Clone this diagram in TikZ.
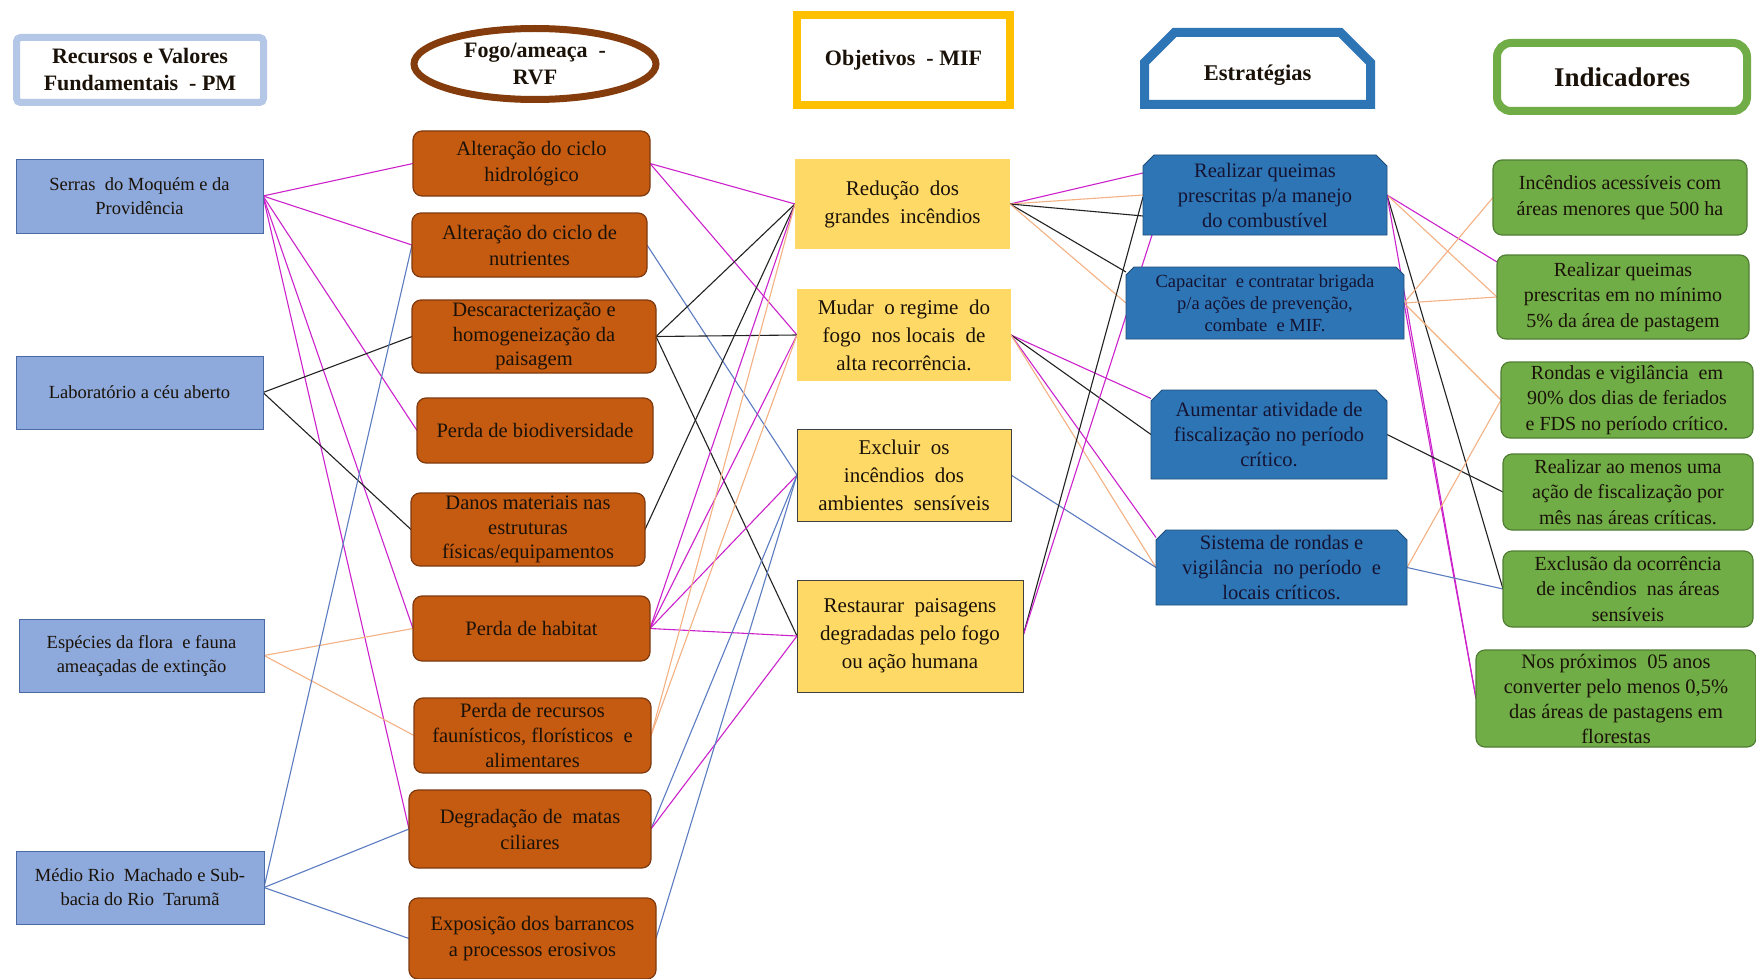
\documentclass[tikz,border=0pt]{standalone}
\usepackage{fontspec}
\setmainfont{Liberation Serif}
\usetikzlibrary{shapes.geometric}
\pgfdeclarelayer{background}
\pgfdeclarelayer{mid}
\pgfsetlayers{background,mid,main}
\definecolor{rvbord}{HTML}{B4C7E7}
\definecolor{rvfill}{HTML}{8EA9DB}
\definecolor{rvline}{HTML}{4A6AA5}
\definecolor{orfill}{HTML}{C55A11}
\definecolor{orline}{HTML}{7F3A10}
\definecolor{ellbord}{HTML}{843C0C}
\definecolor{yelfill}{HTML}{FFD966}
\definecolor{yelbord}{HTML}{FFC000}
\definecolor{stfill}{HTML}{2E75B6}
\definecolor{stline}{HTML}{1F4E79}
\definecolor{grfill}{HTML}{70AD47}
\definecolor{grline}{HTML}{507E32}
\definecolor{cmag}{HTML}{CC22CC}
\definecolor{cblk}{HTML}{222222}
\definecolor{corg}{HTML}{F4B183}
\definecolor{cblu}{HTML}{5B7CC0}
\definecolor{txtdark}{HTML}{1A1208}
\definecolor{txtnavy}{HTML}{141432}
\newcommand\chamferbox[3]{%
  \path[#3] (#1.south west) -- ([yshift=-#2]#1.north west) -- ([xshift=#2]#1.north west)
    -- ([xshift=-#2]#1.north east) -- ([yshift=-#2]#1.north east) -- (#1.south east) -- cycle;}
\tikzset{
  base/.style={align=center, inner sep=2pt, outer sep=0pt, text=txtdark},
  rv/.style={base, rectangle, fill=rvfill, draw=rvline, line width=0.8pt, font=\fontsize{18.5}{24}\selectfont},
  fo/.style={base, rectangle, rounded corners=9pt, fill=orfill, draw=orline, line width=1.2pt, font=\fontsize{20.5}{26}\selectfont},
  ob/.style={base, rectangle, fill=yelfill, font=\fontsize{21}{28}\selectfont},
  obd/.style={ob, draw=black!75, line width=1pt},
  st/.style={base, rectangle, text=txtnavy, font=\fontsize{20.5}{25}\selectfont},
  stfillstyle/.style={fill=stfill, draw=stline, line width=0.8pt},
  indbox/.style={base, rectangle, rounded corners=9pt, fill=grfill, draw=grline, line width=1.2pt, font=\fontsize{20}{25.5}\selectfont},
  head/.style={base, font=\bfseries\fontsize{22}{27}\selectfont, fill=white},
  mag/.style={draw=cmag, line width=1.1pt},
  blk/.style={draw=cblk, line width=1.1pt},
  org/.style={draw=corg, line width=1.1pt},
  blu/.style={draw=cblu, line width=1.1pt}
}
\begin{document}
\begin{tikzpicture}[x=1pt,y=-1pt]
\useasboundingbox (0,0) rectangle (1756,979);
\begin{pgfonlayer}{background}
\fill[white] (0,0) rectangle (1756,979);
\end{pgfonlayer}

% headers
\node[head, rectangle, rounded corners=4pt, draw=rvbord, line width=7pt, minimum width=247pt, minimum height=65pt] (h1) at (140,70) {Recursos e Valores\\Fundamentais \ - PM};
\node[head, ellipse, draw=ellbord, line width=7pt, inner sep=0pt, minimum width=242pt, minimum height=71pt] (h2) at (535,64) {Fogo/ameaça \ -\\RVF};
\node[head, rectangle, draw=yelbord, line width=8pt, minimum width=213pt, minimum height=90pt] (h3) at (903.5,60) {Objetivos \ - MIF};
\node[base, font=\bfseries\fontsize{22.5}{27}\selectfont, minimum width=226pt, minimum height=72pt] (h4) at (1257.5,68.5) {\raisebox{-5pt}[15pt][0pt]{Estratégias}};
\node[head, rectangle, rounded corners=14pt, draw=grfill, line width=8pt, minimum width=250pt, minimum height=68pt, font=\bfseries\fontsize{27}{32}\selectfont] (h5) at (1622,77) {Indicadores};
\begin{pgfonlayer}{mid}
\chamferbox{h4}{30pt}{draw=stfill, line width=9pt, fill=white, line join=miter}
\end{pgfonlayer}

% column 1
\node[rv, minimum width=247pt, minimum height=74pt] (r1) at (139.5,196) {Serras \ do Moquém e da\\Providência};
\node[rv, minimum width=247pt, minimum height=73pt] (r2) at (139.5,392.5) {Laboratório a céu aberto};
\node[rv, minimum width=245pt, minimum height=73pt] (r3) at (141.5,655.5) {Espécies da flora \ e fauna\\ameaçadas de extinção};
\node[rv, minimum width=248pt, minimum height=73pt] (r4) at (140,887.5) {Médio Rio \ Machado e Sub-\\bacia do Rio \ Tarumã};

% column 2
\node[fo, minimum width=237pt, minimum height=65pt] (a1) at (531.5,163.5) {Alteração do ciclo\\hidrológico};
\node[fo, minimum width=235pt, minimum height=64pt] (a2) at (529.5,245) {Alteração do ciclo de\\nutrientes};
\node[fo, minimum width=244pt, minimum height=73pt, font=\fontsize{20.5}{24.5}\selectfont] (a3) at (534,336.5) {Descaracterização e\\homogeneização da\\paisagem};
\node[fo, minimum width=236pt, minimum height=65pt] (a4) at (535,430.5) {Perda de biodiversidade};
\node[fo, minimum width=234pt, minimum height=73pt, font=\fontsize{20.5}{24.5}\selectfont] (a5) at (528,529.5) {Danos materiais nas\\estruturas\\físicas/equipamentos};
\node[fo, minimum width=237pt, minimum height=65pt] (a6) at (531.5,628.5) {Perda de habitat};
\node[fo, minimum width=237pt, minimum height=75pt, font=\fontsize{20.5}{25}\selectfont] (a7) at (532.5,735.5) {Perda de recursos\\faunísticos, florísticos \ e\\alimentares};
\node[fo, minimum width=242pt, minimum height=78pt] (a8) at (530,829) {Degradação de \ matas\\ciliares};
\node[fo, minimum width=247pt, minimum height=81pt] (a9) at (532.5,938.5) {Exposição dos barrancos\\a processos erosivos};

% column 3
\node[ob, minimum width=215pt, minimum height=90pt] (o1) at (902.5,204) {Redução \ dos\\grandes \ incêndios};
\node[ob, minimum width=214pt, minimum height=92pt] (o2) at (904,335) {Mudar \ o regime \ do\\fogo \ nos locais \ de\\alta recorrência.};
\node[obd, minimum width=214pt, minimum height=92pt] (o3) at (904,475) {Excluir \ os\\incêndios \ dos\\ambientes \ sensíveis};
\node[obd, minimum width=226pt, minimum height=112pt] (o4) at (910,636) {Restaurar \ paisagens\\degradadas pelo fogo\\ou ação humana};

% column 4
\node[st, minimum width=244pt, minimum height=80pt] (s1) at (1265,195) {Realizar queimas\\prescritas p/a manejo\\do combustível};
\node[st, minimum width=278pt, minimum height=72pt, font=\fontsize{18.5}{22}\selectfont] (s2) at (1265,303) {Capacitar \ e contratar brigada\\p/a ações de prevenção,\\combate \ e MIF.};
\node[st, minimum width=236pt, minimum height=89pt] (s3) at (1269,434.5) {Aumentar atividade de\\fiscalização no período\\crítico.};
\node[st, minimum width=251pt, minimum height=75pt] (s4) at (1281.5,567.5) {Sistema de rondas e\\vigilância \ no período \ e\\locais críticos.};
\begin{pgfonlayer}{mid}
\chamferbox{s1}{11pt}{stfillstyle}
\chamferbox{s2}{8pt}{stfillstyle}
\chamferbox{s3}{11pt}{stfillstyle}
\chamferbox{s4}{10pt}{stfillstyle}
\end{pgfonlayer}

% column 5
\node[indbox, minimum width=254pt, minimum height=75pt] (i1) at (1620,197.5) {Incêndios acessíveis com\\áreas menores que 500 ha};
\node[indbox, minimum width=252pt, minimum height=84pt] (i2) at (1623,297) {Realizar queimas\\prescritas em no mínimo\\5\% da área de pastagem};
\node[indbox, minimum width=252pt, minimum height=76pt] (i3) at (1627,400) {Rondas e vigilância \ em\\90\% dos dias de feriados\\e FDS no período crítico.};
\node[indbox, minimum width=250pt, minimum height=76pt] (i4) at (1628,492) {Realizar ao menos uma\\ação de fiscalização por\\mês nas áreas críticas.};
\node[indbox, minimum width=250pt, minimum height=76pt] (i5) at (1628,589) {Exclusão da ocorrência\\de incêndios \ nas áreas\\sensíveis};
\node[indbox, minimum width=280pt, minimum height=97pt, font=\fontsize{20.5}{25}\selectfont] (i6) at (1616,698.5) {Nos próximos \ 05 anos\\converter pelo menos 0,5\%\\das áreas de pastagens em\\florestas};

% connectors
\begin{pgfonlayer}{background}
% col1 -> col2
\draw[mag] (r1.east) -- (a1.west);
\draw[mag] (r1.east) -- (a2.west);
\draw[mag] (r1.east) -- (a4.west);
\draw[mag] (r1.east) -- (a6.west);
\draw[mag] (r1.east) -- (a8.west);
\draw[blk] (r2.east) -- (a3.west);
\draw[blk] (r2.east) -- (a5.west);
\draw[org] (r3.east) -- (a6.west);
\draw[org] (r3.east) -- (a7.west);
\draw[blu] (r4.east) -- (a2.west);
\draw[blu] (r4.east) -- (a8.west);
\draw[blu] (r4.east) -- (a9.west);
% col2 -> col3
\draw[mag] (a1.east) -- (o1.west);
\draw[mag] (a1.east) -- (o2.west);
\draw[blu] (a2.east) -- (o3.west);
\draw[blk] (a3.east) -- (o1.west);
\draw[blk] (a3.east) -- (o2.west);
\draw[blk] (a3.east) -- (o4.west);
\draw[blk] (a5.east) -- (o1.west);
\draw[mag] (a6.east) -- (o1.west);
\draw[mag] (a6.east) -- (o2.west);
\draw[mag] (a6.east) -- (o3.west);
\draw[mag] (a6.east) -- (o4.west);
\draw[org] (a7.east) -- (o1.west);
\draw[org] (a7.east) -- (o2.west);
\draw[blu] (a8.east) -- (o3.west);
\draw[mag] (a8.east) -- (o4.west);
\draw[blu] (a9.east) -- (o3.west);
% col3 -> col4
\draw[mag] (o1.east) -- ([yshift=22pt]s1.west);
\draw[org] (o1.east) -- (s1.west);
\draw[blk] (o1.east) -- ([yshift=-21pt]s1.west);
\draw[blk] (o1.east) -- ([yshift=31pt]s2.west);
\draw[org] (o1.east) -- (s2.west);
\draw[mag] (o2.east) -- ([yshift=36pt]s3.west);
\draw[blk] (o2.east) -- (s3.west);
\draw[mag] (o2.east) -- ([yshift=30pt]s4.west);
\draw[org] (o2.east) -- (s4.west);
\draw[blu] (o3.east) -- (s4.west);
\draw[blk] (o4.east) -- ([yshift=-2pt]s1.west);
\draw[mag] (o4.east) -- ([xshift=9pt]s1.south west);
% col4 -> col5
\draw[mag] (s1.east) -- ([yshift=35pt]i2.west);
\draw[org] (s1.east) -- (i2.west);
\draw[blk] (s1.east) -- (i5.west);
\draw[mag] (s1.east) -- (i6.west);
\draw[org] (s2.east) -- (i1.west);
\draw[org] (s2.east) -- (i2.west);
\draw[org] (s2.east) -- (i3.west);
\draw[mag] (s2.east) -- (i6.west);
\draw[blk] (s3.east) -- (i4.west);
\draw[org] (s4.east) -- (i3.west);
\draw[blu] (s4.east) -- (i5.west);
\end{pgfonlayer}
\end{tikzpicture}
\end{document}
